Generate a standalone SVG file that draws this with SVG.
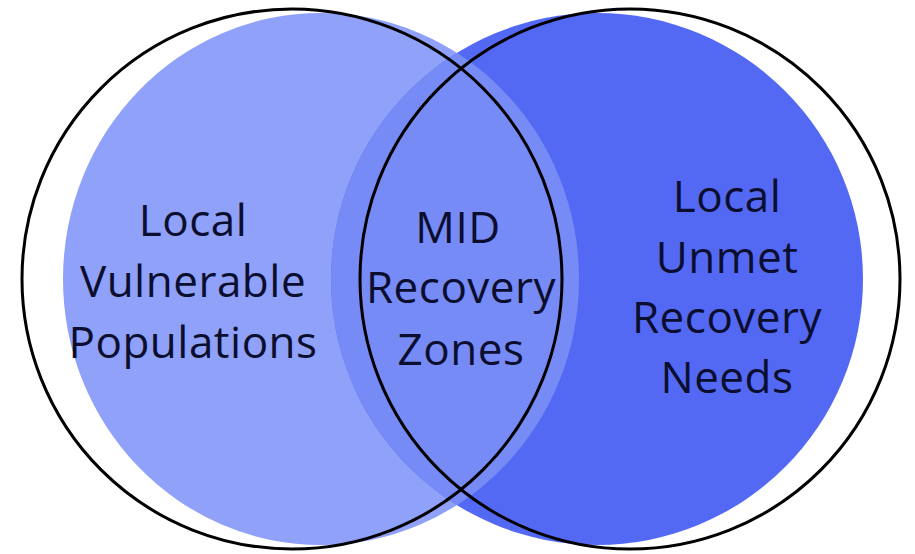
<svg xmlns="http://www.w3.org/2000/svg" width="915" height="554" viewBox="0 0 915 554">
  <style>
    .lbl { font-family: "Open Sans", "Noto Sans", "Liberation Sans", sans-serif; font-size: 44px; font-weight: 500; fill: #0b0e2e; text-anchor: middle; letter-spacing: 0.5px; }
    .outline { fill: none; stroke: #000; stroke-width: 3; }
  </style>
  <defs>
    <clipPath id="leftFillClip">
      <ellipse cx="321" cy="279" rx="258" ry="266"/>
    </clipPath>
  </defs>
  <rect width="915" height="554" fill="#ffffff"/>
  <g id="fills">
    <ellipse cx="321" cy="279" rx="258" ry="266" fill="#8fa1f9"/>
    <circle cx="597" cy="279" r="266" fill="#5469f3"/>
    <circle cx="597" cy="279" r="266" fill="#778bf7" clip-path="url(#leftFillClip)"/>
  </g>
  <g id="set-left">
    <circle class="outline" cx="292" cy="279" r="270"/>
    <text class="lbl" x="193" y="236">Local</text>
    <text class="lbl" x="193" y="297">Vulnerable</text>
    <text class="lbl" x="193" y="358">Populations</text>
  </g>
  <g id="set-right">
    <circle class="outline" cx="630" cy="279" r="270"/>
    <text class="lbl" x="727" y="212">Local</text>
    <text class="lbl" x="727" y="273">Unmet</text>
    <text class="lbl" x="727" y="333">Recovery</text>
    <text class="lbl" x="727" y="393">Needs</text>
  </g>
  <g id="intersection">
    <text class="lbl" x="458" y="243">MID</text>
    <text class="lbl" x="461" y="303">Recovery</text>
    <text class="lbl" x="461" y="365">Zones</text>
  </g>
  <g id="connectors"/>
</svg>
